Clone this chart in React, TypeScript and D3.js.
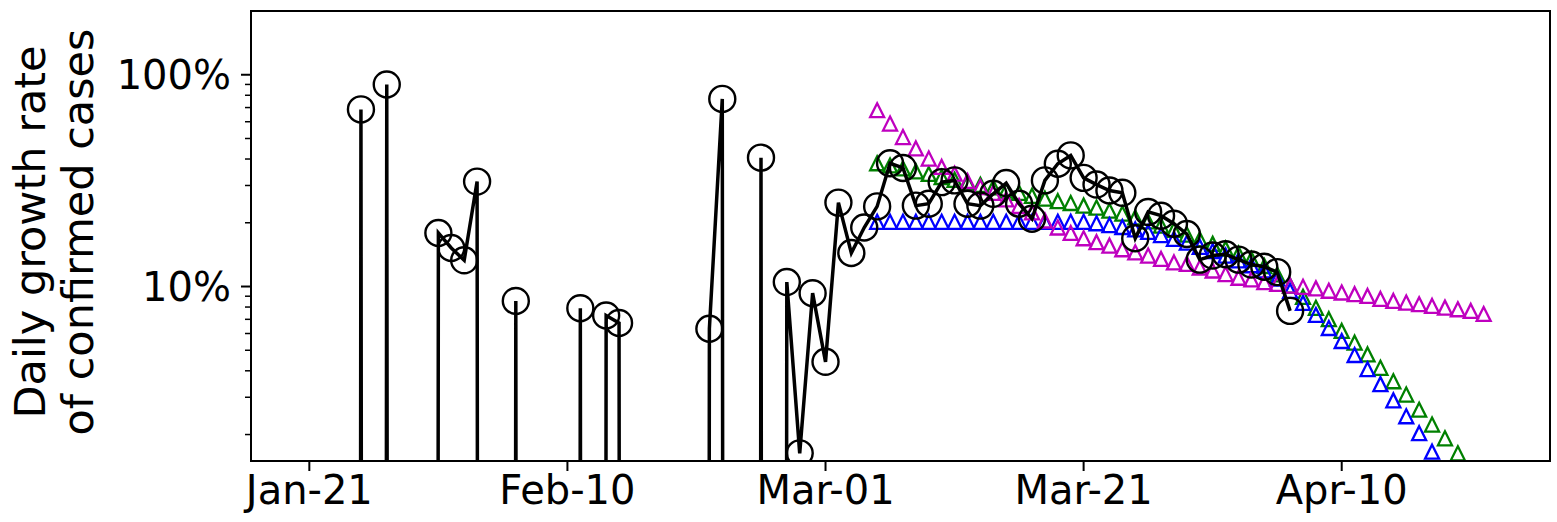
import React from "react";
import * as d3 from "d3";

// ---------- data ----------
const observedStart = "2020-01-21";
// daily growth rate of confirmed cases (%), 0 = no growth
const observedValues = [
  0, 0, 0, 0, 68.6, 0, 90.0, 0, 0, 0, 17.9, 15.2, 13.3, 31.3, 0, 0, 8.55, 0, 0, 0, 0,
  7.9, 0, 7.3, 6.73, 0, 0, 0, 0, 0, 0, 6.32, 76.9, 0, 0, 40.6, 0, 10.5, 1.63, 9.3, 4.41,
  24.9, 14.4, 19.0, 23.9, 38.2, 36.3, 24.1, 24.6, 31.1, 31.7, 24.6, 24.1, 27.4, 30.8,
  24.6, 20.9, 31.7, 38.0, 41.6, 32.6, 30.3, 28.4, 27.7, 16.9, 22.5, 21.6, 19.8, 17.7,
  13.4, 14.0, 14.2, 13.4, 12.7, 12.4, 11.7, 7.67,
];

const modelStart = "2020-03-05";
const magentaValues = [
  68.0, 58.8, 50.8, 44.9, 40.2, 36.7, 34.1, 31.5, 29.5, 27.7, 25.8, 24.0, 22.4, 20.5,
  19.0, 17.9, 16.9, 16.2, 15.6, 15.0, 14.5, 14.0, 13.5, 13.0, 12.8, 12.3, 11.9, 11.45,
  11.0, 10.8, 10.5, 10.3, 10.1, 9.97, 9.8, 9.55, 9.37, 9.2, 9.03, 8.74, 8.55, 8.4, 8.25,
  8.1, 7.95, 7.81, 7.67, 7.42,
];
const greenValues = [
  38.2, 37.3, 36.1, 35.0, 34.0, 32.9, 31.9, 31.0, 30.2, 29.4, 28.4, 27.7, 26.8, 26.0,
  25.3, 24.8, 24.1, 23.6, 22.8, 22.1, 21.2, 20.3, 19.4, 18.5, 17.6, 16.7, 15.9, 15.1,
  14.3, 13.5, 12.5, 11.4, 10.1, 8.94, 7.93, 7.01, 6.17, 5.43, 4.78, 4.13, 3.57, 3.09,
  2.62, 2.23, 1.92, 1.63,
];
const blueValues = [
  20.2, 20.2, 20.2, 20.2, 20.2, 20.2, 20.2, 20.2, 20.2, 20.2, 20.2, 20.2, 20.2, 20.2,
  20.2, 20.2, 20.2, 19.9, 19.5, 19.1, 18.6, 18.1, 17.5, 16.8, 16.1, 15.4, 14.7, 14.0,
  13.3, 12.6, 11.9, 10.9, 9.54, 8.37, 7.34, 6.37, 5.53, 4.75, 4.07, 3.46, 2.9, 2.44,
  2.03, 1.66,
];

const xTickDates = ["2020-01-21", "2020-02-10", "2020-03-01", "2020-03-21", "2020-04-10"];
const xTickLabels = ["Jan-21", "Feb-10", "Mar-01", "Mar-21", "Apr-10"];
const yMajorTicks = [10, 100];
const yMajorLabels = ["10%", "100%"];
const yMinorTicks = [2, 3, 4, 5, 6, 7, 8, 9, 20, 30, 40, 50, 60, 70, 80, 90];
const yTitleLines = ["Daily growth rate", "of confirmed cases"];

// ---------- layout ----------
const W = 1557;
const H = 522;
const M = { left: 251, right: 1550, top: 11, bottom: 461 };
const FONT = "'DejaVu Sans', sans-serif";

const parse = (s: string) => {
  const [y, m, d] = s.split("-").map(Number);
  return new Date(Date.UTC(y, m - 1, d));
};
const DAY = 86400000;
const seriesFrom = (start: string, vals: number[]) => {
  const t0 = parse(start).getTime();
  return vals.map((v, i) => ({ date: new Date(t0 + i * DAY), value: v }));
};

export default function App() {
  const x = d3
    .scaleUtc()
    .domain([
      new Date(parse("2020-01-21").getTime() - 4.52 * DAY),
      new Date(parse("2020-04-10").getTime() + 16.14 * DAY),
    ])
    .range([M.left, M.right]);
  const y = d3.scaleLog().domain([1.5, 200]).range([M.bottom, M.top]);
  // non-positive values are clipped far below the axes (like a log axis with clipping)
  const yv = (v: number) => (v > 0 ? y(v) : y(1e-60));

  const observed = seriesFrom(observedStart, observedValues);
  const models = [
    { color: "#008000", data: seriesFrom(modelStart, greenValues) },
    { color: "#0000ff", data: seriesFrom(modelStart, blueValues) },
    { color: "#bf00bf", data: seriesFrom(modelStart, magentaValues) },
  ];

  const line = d3
    .line<{ date: Date; value: number }>()
    .x((d) => x(d.date))
    .y((d) => yv(d.value));

  const tri = 14;
  const triPath = `M0,${-tri / 2}L${tri / 2},${tri / 2}L${-tri / 2},${tri / 2}Z`;

  return (
    <svg
      width={W}
      height={H}
      style={{ position: "absolute", left: 0, top: 0, background: "#fff" }}
      fontFamily={FONT}
    >
      <defs>
        <clipPath id="plotClip">
          <rect x={M.left} y={M.top} width={M.right - M.left} height={M.bottom - M.top} />
        </clipPath>
      </defs>
      <rect x={0} y={0} width={W} height={H} fill="#fff" />

      <g clipPath="url(#plotClip)">
        {models.map((m, i) => (
          <g key={i}>
            {m.data.map((d, j) => (
              <path
                key={j}
                d={triPath}
                transform={`translate(${x(d.date)},${y(d.value)})`}
                fill="none"
                stroke={m.color}
                strokeWidth={2.3}
                strokeLinejoin="miter"
              />
            ))}
          </g>
        ))}
        <path d={line(observed) || ""} fill="none" stroke="#000" strokeWidth={3.5} strokeLinejoin="miter" />
        {observed
          .filter((d) => d.value > 0)
          .map((d, j) => (
            <circle key={j} cx={x(d.date)} cy={y(d.value)} r={13} fill="none" stroke="#000" strokeWidth={2.4} />
          ))}
      </g>

      {/* frame */}
      <rect
        x={M.left}
        y={M.top}
        width={M.right - M.left}
        height={M.bottom - M.top}
        fill="none"
        stroke="#000"
        strokeWidth={2}
      />

      {/* x axis */}
      {xTickDates.map((s, i) => {
        const px = x(parse(s));
        return (
          <g key={s}>
            <line x1={px} x2={px} y1={M.bottom} y2={M.bottom + 10} stroke="#000" strokeWidth={2} />
            <text x={px} y={504} textAnchor="middle" fontSize={40} fill="#000">
              {xTickLabels[i]}
            </text>
          </g>
        );
      })}

      {/* y axis */}
      {yMinorTicks.map((v) => (
        <line key={v} x1={M.left - 6} x2={M.left} y1={y(v)} y2={y(v)} stroke="#000" strokeWidth={1.5} />
      ))}
      {yMajorTicks.map((v, i) => (
        <g key={v}>
          <line x1={M.left - 10} x2={M.left} y1={y(v)} y2={y(v)} stroke="#000" strokeWidth={2} />
          <text x={231} y={y(v)} dy="0.36em" textAnchor="end" fontSize={40} fill="#000">
            {yMajorLabels[i]}
          </text>
        </g>
      ))}

      {/* y title */}
      {yTitleLines.map((t, i) => (
        <text
          key={t}
          transform={`translate(${45 + i * 48},${232}) rotate(-90)`}
          textAnchor="middle"
          fontSize={43}
          fill="#000"
        >
          {t}
        </text>
      ))}
    </svg>
  );
}
